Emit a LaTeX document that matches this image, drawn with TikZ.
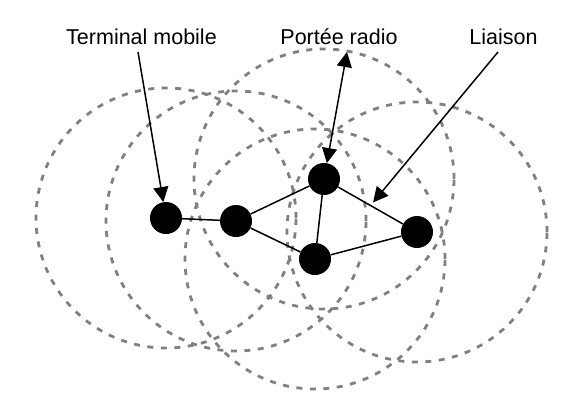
\documentclass[tikz,border=0pt]{standalone}
\usepackage{fontspec}
\setmainfont{Liberation Sans}
\usetikzlibrary{arrows.meta,calc}
\begin{document}
\begin{tikzpicture}[x=1pt,y=-1pt,
  rangecircle/.style={draw=black!50,line width=2.8pt,dash pattern=on 6pt off 7.5pt},
  term/.style={circle,fill=black,inner sep=0pt,minimum size=32pt},
  link/.style={draw=black,line width=1.5pt},
  pointer/.style={draw=black,line width=1.5pt,-{Triangle[length=15pt,width=15pt]}},
  lbl/.style={font=\fontsize{21.5pt}{24pt}\selectfont,anchor=base,inner sep=0pt}]
\useasboundingbox (0,0) rectangle (583,405);
\coordinate (c1) at (166,218);
\coordinate (c2) at (236,221);
\coordinate (c3) at (324,179);
\coordinate (c4) at (315,259);
\coordinate (c5) at (417,232);
\foreach \c in {c1,c2,c3,c4,c5}{\path[rangecircle] (\c) circle (130pt);}
\node[term] (n1) at (c1) {};
\node[term] (n2) at (c2) {};
\node[term] (n3) at (c3) {};
\node[term] (n4) at (c4) {};
\node[term] (n5) at (c5) {};
\path[link] (n1) -- (n2);
\path[link] (n2) -- (n3);
\path[link] (n2) -- (n4);
\path[link] (n3) -- (n4);
\path[link] (n3) -- (n5);
\path[link] (n4) -- (n5);
\node[lbl] (tm) at (141.5,44) {Terminal mobile};
\node[lbl] (pr) at (339,44) {Portée radio};
\node[lbl] (li) at (503.5,44) {Liaison};
\coordinate (tms) at (138,52);
\coordinate (prt) at (347,52);
\coordinate (lis) at (498,52);
\coordinate (lim) at ($(n3.center)!0.5!(n5.center)$);
\path[pointer] (tms) -- (n1);
\path[pointer,{Triangle[length=15pt,width=15pt]}-{Triangle[length=15pt,width=15pt]}] (n3) -- (prt);
\path[pointer,shorten >=4pt] (lis) -- (lim);
\end{tikzpicture}
\end{document}
